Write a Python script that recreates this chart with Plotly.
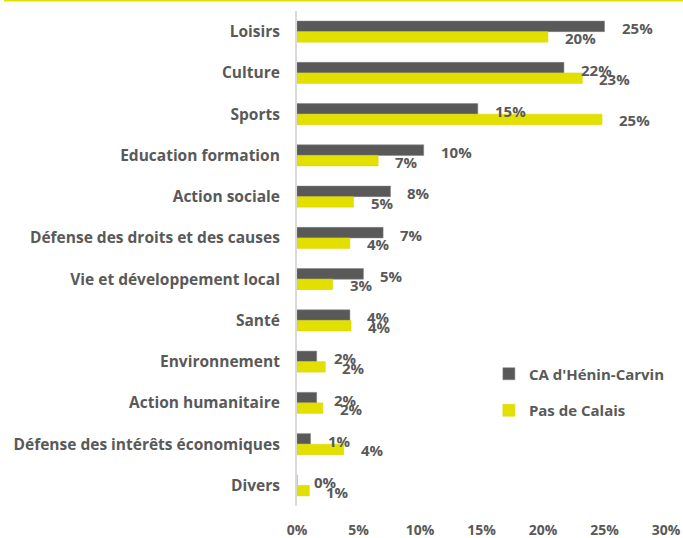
import plotly.graph_objects as go

categories = [
    "Loisirs",
    "Culture",
    "Sports",
    "Education formation",
    "Action sociale",
    "Défense des droits et des causes",
    "Vie et développement local",
    "Santé",
    "Environnement",
    "Action humanitaire",
    "Défense des intérêts économiques",
    "Divers",
]
ca_henin = [0.250, 0.217, 0.147, 0.103, 0.076, 0.070, 0.054, 0.043, 0.016, 0.016, 0.011, 0.0]
pas_de_calais = [0.204, 0.232, 0.248, 0.066, 0.046, 0.043, 0.029, 0.044, 0.023, 0.021, 0.038, 0.010]

DARK = "#595959"
YELLOW = "#e3e000"
TEXT = "#595959"
FONT = "Open Sans"
BARGAP = 0.49

fig = go.Figure()
fig.add_bar(y=categories, x=ca_henin, orientation="h", name="CA d'Hénin-Carvin",
            marker=dict(color=DARK, line=dict(color="#7f7f7f", width=0.5)), legendgroup="a")
fig.add_bar(y=categories, x=pas_de_calais, orientation="h", name="Pas de Calais",
            marker=dict(color=YELLOW, line=dict(color="#d6d300", width=0.5)), legendgroup="b")

# data labels, pushed out from the bar end like the original
off = (1 - BARGAP) / 4
for i in range(len(categories)):
    for vals, dy, ys in ((ca_henin, -off, -2), (pas_de_calais, off, -1)):
        fig.add_annotation(x=vals[i], y=i + dy, text=f"{round(vals[i] * 100)}%",
                           xanchor="left", yanchor="middle", xshift=15, yshift=ys,
                           showarrow=False, font=dict(family=FONT, size=15, color=TEXT, weight="bold"))

# yellow rule along the top edge
fig.add_shape(type="line", xref="paper", yref="paper", x0=-0.794, x1=1.05, y0=1.0212, y1=1.0212,
              line=dict(color=YELLOW, width=2))

fig.update_layout(
    width=683, height=538,
    margin=dict(l=297, r=17, t=11, b=32, autoexpand=False),
    barmode="group", bargap=BARGAP, bargroupgap=0,
    plot_bgcolor="white", paper_bgcolor="white",
    font=dict(family=FONT, size=13, color=TEXT),
    legend=dict(x=0.52, y=0.30, xanchor="left", yanchor="top", tracegroupgap=14,
                font=dict(family=FONT, size=15, color=TEXT, weight="bold"),
                bgcolor="rgba(0,0,0,0)"),
)
fig.update_xaxes(range=[0, 0.30], dtick=0.05, tickformat=".0%", showgrid=False, zeroline=False,
                 showline=False, ticklabelstandoff=14, automargin=False,
                 tickfont=dict(family=FONT, size=14, color=TEXT, weight="bold"))
fig.update_yaxes(autorange="reversed", showgrid=False, showline=True, linecolor="#d9d9d9", linewidth=2,
                 ticklabelstandoff=12, automargin=False,
                 tickfont=dict(family=FONT, size=15.5, color=TEXT, weight="bold"))

# drop the browser's default body margin so the figure sits at the page corner
fig.write_html("out.html", config={"displayModeBar": False},
               post_script="document.body.style.margin='0';")
